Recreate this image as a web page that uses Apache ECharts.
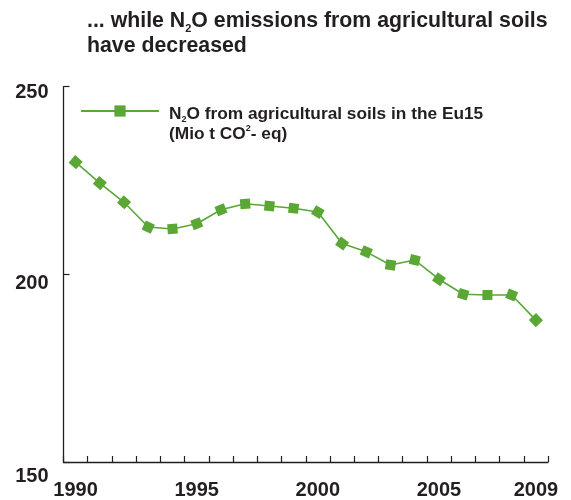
<!DOCTYPE html>
<html>
<head>
<meta charset="utf-8">
<script src="https://cdn.jsdelivr.net/npm/echarts@6/dist/echarts.min.js"></script>
<style>
html,body{margin:0;padding:0;background:#fff;}
#chart{width:571px;height:500px;}
</style>
</head>
<body>
<div id="chart"></div>
<script>
const years = ['1990','1991','1992','1993','1994','1995','1996','1997','1998','1999',
               '2000','2001','2002','2003','2004','2005','2006','2007','2008','2009'];
const n2oSoils = [229.9, 224.3, 219.2, 212.6, 212.1, 213.5, 217.2, 218.8, 218.2, 217.6,
                  216.6, 208.2, 206.0, 202.5, 203.8, 198.7, 194.7, 194.5, 194.5, 187.8];
const yTicks = [150, 200, 250];
const shownYearLabels = ['1990','1995','2000','2005','2009'];
const seriesName = 'N2O from agricultural soils in the Eu15 (Mio t CO2- eq)';

const FONT = "'Liberation Sans', Arial, Helvetica, sans-serif";
const TXT = '#231f20';
const GREEN = '#5aa736';

const chart = echarts.init(document.getElementById('chart'), null, {renderer: 'canvas'});

const option = {
  animation: false,
  backgroundColor: '#fff',
  title: {
    left: 87, top: 9, padding: 0,
    text: '{t|... while N}{s|2}{t|O emissions from agricultural soils}\n{t|have decreased}',
    textStyle: {
      fontFamily: FONT, fontWeight: 'bold', fontSize: 21.3, color: TXT, lineHeight: 25,
      rich: {
        t: {fontFamily: FONT, fontWeight: 'bold', fontSize: 21.3, color: TXT, lineHeight: 25},
        s: {fontFamily: FONT, fontWeight: 'bold', fontSize: 11, color: TXT, lineHeight: 25, verticalAlign: 'bottom'}
      }
    }
  },
  legend: {
    left: 80, top: 78, padding: 0,
    itemWidth: 78, itemHeight: 14,
    symbolRotate: 0,
    data: [seriesName],
    formatter: function () {
      return '{t|N}{s|2}{t|O from agricultural soils in the Eu15}\n{t|(Mio t CO}{p|2}{t|- eq)}';
    },
    textStyle: {
      fontFamily: FONT, fontWeight: 'bold', fontSize: 17.3, color: TXT, lineHeight: 20,
      padding: [26, 0, 0, 5],
      rich: {
        t: {fontFamily: FONT, fontWeight: 'bold', fontSize: 17.3, color: TXT, lineHeight: 20},
        s: {fontFamily: FONT, fontWeight: 'bold', fontSize: 9, color: TXT, lineHeight: 20, verticalAlign: 'bottom'},
        p: {fontFamily: FONT, fontWeight: 'bold', fontSize: 9, color: TXT, lineHeight: 20, verticalAlign: 'top'}
      }
    }
  },
  grid: {left: 63.5, right: 23, top: 86.7, bottom: 34.7, containLabel: false},
  xAxis: {
    type: 'category',
    data: years,
    boundaryGap: true,
    axisLine: {show: true, lineStyle: {color: '#231f20', width: 1.3}},
    axisTick: {show: true, inside: true, length: 6, interval: 0, lineStyle: {color: '#231f20', width: 1.2}},
    axisLabel: {
      interval: function (idx, val) { return shownYearLabels.indexOf(val) >= 0; },
      margin: 18,
      fontFamily: FONT, fontWeight: 'bold', fontSize: 20, color: TXT
    },
    splitLine: {show: false}
  },
  yAxis: {
    type: 'value',
    min: yTicks[0], max: yTicks[yTicks.length - 1], interval: 50,
    axisLine: {show: true, lineStyle: {color: '#231f20', width: 1.3}},
    axisTick: {show: true, inside: true, length: 6, lineStyle: {color: '#231f20', width: 1.2}},
    axisLabel: {
      margin: 15,
      formatter: function (v) { return (v === yTicks[0] ? '{b|' : (v === yTicks[1] ? '{c|' : '{a|')) + v + '}'; },
      fontFamily: FONT, fontWeight: 'bold', fontSize: 20, color: TXT,
      rich: {
        a: {fontFamily: FONT, fontWeight: 'bold', fontSize: 20, color: TXT, padding: [12, 0, 0, 0]},
        c: {fontFamily: FONT, fontWeight: 'bold', fontSize: 20, color: TXT, padding: [18, 0, 0, 0]},
        b: {fontFamily: FONT, fontWeight: 'bold', fontSize: 20, color: TXT, padding: [28, 0, 0, 0]}
      }
    },
    splitLine: {show: false}
  },
  series: [{
    name: seriesName,
    type: 'line',
    data: n2oSoils,
    symbol: 'rect',
    symbolSize: 10,
    showSymbol: true,
    itemStyle: {color: GREEN},
    lineStyle: {color: GREEN, width: 1.6}
  }]
};

chart.setOption(option);

// rotate each marker along the local direction of the line (in pixel space)
const px = n2oSoils.map((v, i) => chart.convertToPixel({seriesIndex: 0}, [i, v]));
function segAngle(a, b) {
  return Math.atan2(-(px[b][1] - px[a][1]), px[b][0] - px[a][0]) * 180 / Math.PI;
}
chart.setOption({
  series: [{
    symbolRotate: function (value, params) {
      const i = params.dataIndex;
      const angs = [];
      if (i > 0) angs.push(segAngle(i - 1, i));
      if (i < px.length - 1) angs.push(segAngle(i, i + 1));
      return angs.reduce((s, a) => s + a, 0) / angs.length;
    }
  }]
});
</script>
</body>
</html>
